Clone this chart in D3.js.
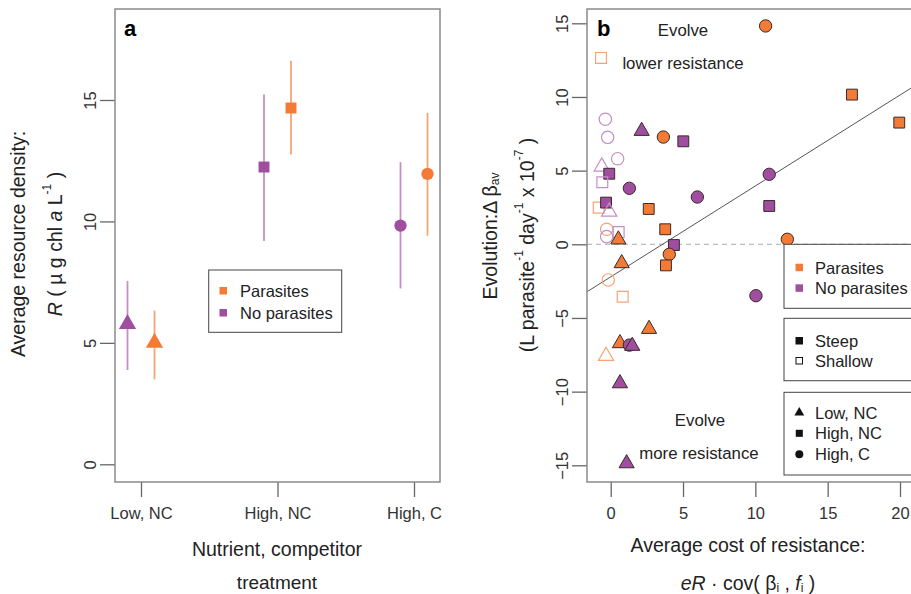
<!DOCTYPE html>
<html>
<head>
<meta charset="utf-8">
<script src="https://cdn.jsdelivr.net/npm/d3@7"></script>
<style>
  html, body { margin: 0; padding: 0; background: #fff; }
  svg { display: block; font-family: "Liberation Sans", Arial, sans-serif; }
</style>
</head>
<body>
<svg id="chart" width="911" height="594"></svg>
<script>
// ---- Panel a: average resource density by treatment ----
const treatments = ["Low, NC", "High, NC", "High, C"];
const treatmentShapes = ["triangle", "square", "circle"];
const parasiteMean = [5.0, 14.67, 11.96];
const parasiteLow = [3.5, 12.76, 9.41];
const parasiteHigh = [6.33, 16.62, 14.47];
const noParasiteMean = [5.78, 12.24, 9.83];
const noParasiteLow = [3.88, 9.19, 7.24];
const noParasiteHigh = [7.55, 15.23, 12.44];
const ticksA = [0, 5, 10, 15];

// ---- Panel b: evolution of transmission vs. cost of resistance ----
const costX = [10.71, -0.67, -0.37, -0.21, 2.14, 3.64, 5.02, 0.48, -0.62, -0.10,
  -0.58, 1.29, 5.99, 10.96, 10.96, 16.68, 19.95, 12.21, -0.83, -0.32,
  -0.10, 2.63, 3.77, -0.28, -0.28, 0.55, 0.53, 4.37, 4.05, 3.82,
  0.76, -0.17, 0.83, 10.04, 2.65, 0.64, 1.29, 1.49, -0.32, 0.64, 1.10];
const evolY = [14.82, 12.65, 8.49, 7.26, 7.69, 7.28, 6.99, 5.81, 5.27, 4.79,
  4.21, 3.80, 3.21, 4.75, 2.60, 10.16, 8.26, 0.34, 2.49, 2.83,
  2.21, 2.40, 1.02, 1.02, 0.52, 0.83, 0.32, -0.05, -0.68, -1.43,
  -1.29, -2.42, -3.56, -3.49, -5.75, -6.72, -6.84, -6.90, -7.58, -9.44, -14.87];
// 1 = parasites, 0 = no parasites
const withParasites = [1, 1, 0, 0, 0, 1, 0, 0, 0, 0,
  0, 0, 0, 0, 0, 1, 1, 1, 1, 0,
  0, 1, 1, 1, 0, 0, 1, 0, 1, 1,
  1, 1, 1, 0, 1, 1, 0, 0, 1, 0, 0];
// 1 = steep (filled), 0 = shallow (open)
const steepSlope = [1, 0, 0, 0, 1, 1, 1, 0, 0, 1,
  0, 1, 1, 1, 1, 1, 1, 1, 0, 1,
  0, 1, 1, 0, 0, 0, 1, 1, 1, 1,
  1, 0, 0, 1, 1, 1, 1, 1, 0, 1, 1];
// 0 = Low, NC; 1 = High, NC; 2 = High, C
const treatmentIndex = [2, 1, 2, 2, 0, 2, 1, 2, 0, 1,
  1, 2, 2, 2, 1, 1, 1, 2, 1, 1,
  0, 1, 1, 2, 2, 1, 0, 1, 2, 1,
  0, 2, 1, 2, 0, 0, 2, 0, 0, 0, 0];
const fitIntercept = -2.21;
const fitSlope = 0.617;
const ticksBx = [0, 5, 10, 15, 20];
const ticksBy = [-15, -10, -5, 0, 5, 10, 15];

const orange = "#F47B36", purple = "#A04FA0";
const orangeLight = "#F6A477", purpleLight = "#C68EC6";
const FONT = "Liberation Sans, Arial, sans-serif";
const tickFont = 16.5, titleFont = 19.5, legendFont = 16.5, noteFont = 16.8;

const svg = d3.select("#chart");
const symbolType = { triangle: d3.symbolTriangle, square: d3.symbolSquare, circle: d3.symbolCircle };
const symbolSize = { triangle: 100, square: 118, circle: 120 };
const sym = (shape, size) => d3.symbol().type(symbolType[shape]).size(size || symbolSize[shape])();

function styleY(g) {
  g.select(".domain").remove();
  g.selectAll(".tick line").attr("stroke", "#666").attr("stroke-width", 1.3);
  g.selectAll(".tick text")
    .attr("font-size", tickFont).attr("fill", "#333").attr("font-family", FONT)
    .attr("text-anchor", "middle").attr("dy", null).attr("x", null)
    .attr("transform", "translate(-25,0) rotate(-90)").attr("dominant-baseline", "central");
}
function styleX(g) {
  g.select(".domain").remove();
  g.selectAll(".tick line").attr("stroke", "#666").attr("stroke-width", 1.3);
  g.selectAll(".tick text").attr("font-size", tickFont).attr("fill", "#333")
    .attr("font-family", FONT).attr("dy", null).attr("y", 31).attr("dominant-baseline", "central");
}

// ================= Panel a =================
const A = { left: 115, right: 440, top: 9, bottom: 482 };
const xA = d3.scalePoint().domain(treatments).range([141, 414]);
const yA = d3.scaleLinear().domain([0, 15]).range([464.3, 100]);
const dodge = 13.5;

const gA = svg.append("g");

gA.append("g").attr("transform", `translate(${A.left},0)`)
  .call(d3.axisLeft(yA).tickValues(ticksA).tickSize(15)).call(styleY);
gA.append("g").attr("transform", `translate(0,${A.bottom})`)
  .call(d3.axisBottom(xA).tickSize(15)).call(styleX);

// frame
gA.append("rect").attr("x", A.left).attr("y", A.top)
  .attr("width", A.right - A.left).attr("height", A.bottom - A.top)
  .attr("fill", "none").attr("stroke", "#8a8a8a").attr("stroke-width", 1.5);

gA.append("text").attr("x", 124).attr("y", 36).attr("font-size", 22).attr("font-weight", "bold").text("a");

// error bars and means
const seriesA = [
  { mean: noParasiteMean, lo: noParasiteLow, hi: noParasiteHigh, color: purple, bar: purpleLight, off: -dodge },
  { mean: parasiteMean, lo: parasiteLow, hi: parasiteHigh, color: orange, bar: orangeLight, off: dodge }
];
seriesA.forEach(s => {
  treatments.forEach((t, i) => {
    const cx = xA(t) + s.off;
    gA.append("line").attr("x1", cx).attr("x2", cx)
      .attr("y1", yA(s.lo[i])).attr("y2", yA(s.hi[i]))
      .attr("stroke", s.bar).attr("stroke-width", 1.8);
    gA.append("path").attr("d", sym(treatmentShapes[i], treatmentShapes[i] === "triangle" ? 130 : 120))
      .attr("transform", `translate(${cx},${yA(s.mean[i])})`)
      .attr("fill", s.color);
  });
});

// legend
const legA = gA.append("g");
legA.append("rect").attr("x", 208.7).attr("y", 270).attr("width", 133).attr("height", 62.3)
  .attr("fill", "#fff").attr("stroke", "#444").attr("stroke-width", 1);
[["Parasites", orange, 291], ["No parasites", purple, 313]].forEach(([lab, col, yy]) => {
  legA.append("rect").attr("x", 219.5).attr("y", yy - 4).attr("width", 7.5).attr("height", 7.5).attr("fill", col);
  legA.append("text").attr("x", 240).attr("y", yy).attr("dominant-baseline", "central")
    .attr("font-size", legendFont).attr("fill", "#222").text(lab);
});

// axis titles
gA.append("text").attr("transform", "translate(18,244) rotate(-90)")
  .attr("text-anchor", "middle").attr("dominant-baseline", "central").attr("font-size", titleFont).attr("fill", "#222")
  .text("Average resource density:");
const rLab = gA.append("text").attr("transform", "translate(55,244) rotate(-90)")
  .attr("text-anchor", "middle").attr("dominant-baseline", "central").attr("font-size", titleFont).attr("fill", "#222");
rLab.append("tspan").attr("font-style", "italic").text("R");
rLab.append("tspan").text(" ( \u00B5 g chl ");
rLab.append("tspan").attr("font-style", "italic").text("a");
rLab.append("tspan").text(" L");
rLab.append("tspan").attr("font-size", 12).attr("dy", -8).text("-1");
rLab.append("tspan").attr("dy", 8).text(" )");

gA.append("text").attr("x", 277).attr("y", 549).attr("text-anchor", "middle").attr("dominant-baseline", "central")
  .attr("font-size", titleFont).attr("fill", "#222").text("Nutrient, competitor");
gA.append("text").attr("x", 277).attr("y", 588.5).attr("text-anchor", "middle")
  .attr("font-size", 19).attr("fill", "#222").text("treatment");

// ================= Panel b =================
const B = { left: 587, right: 914, top: 9, bottom: 482 };
const xB = d3.scaleLinear().domain([0, 20]).range([610.7, 900]);
const yB = d3.scaleLinear().domain([-15, 15]).range([465.3, 23.3]);

const gB = svg.append("g");
const clipId = "clipB";
gB.append("clipPath").attr("id", clipId).append("rect")
  .attr("x", B.left).attr("y", B.top).attr("width", B.right - B.left).attr("height", B.bottom - B.top);

gB.append("g").attr("transform", `translate(${B.left},0)`)
  .call(d3.axisLeft(yB).tickValues(ticksBy).tickSize(15)).call(styleY);
gB.append("g").attr("transform", `translate(0,${B.bottom})`)
  .call(d3.axisBottom(xB).tickValues(ticksBx).tickSize(15)).call(styleX);

const plotB = gB.append("g").attr("clip-path", `url(#${clipId})`);

// zero reference
plotB.append("line").attr("x1", B.left).attr("x2", B.right).attr("y1", yB(0)).attr("y2", yB(0))
  .attr("stroke", "#aaa").attr("stroke-width", 1.1).attr("stroke-dasharray", "5,4");

// fitted line
const xDom = [xB.invert(B.left), xB.invert(B.right)];
plotB.append("line")
  .attr("x1", xB(xDom[0])).attr("y1", yB(fitIntercept + fitSlope * xDom[0]))
  .attr("x2", xB(xDom[1])).attr("y2", yB(fitIntercept + fitSlope * xDom[1]))
  .attr("stroke", "#555").attr("stroke-width", 1);

// annotations
const ann = (x, y, t) => plotB.append("text").attr("x", x).attr("y", y).attr("text-anchor", "middle")
  .attr("dominant-baseline", "central").attr("font-size", noteFont).attr("fill", "#222").text(t);
ann(683, 30, "Evolve");
ann(683, 63, "lower resistance");
ann(700, 420, "Evolve");
ann(699, 453, "more resistance");

gB.append("text").attr("x", 597).attr("y", 36).attr("font-size", 22).attr("font-weight", "bold").text("b");

// points
costX.forEach((cx, i) => {
  const shape = treatmentShapes[treatmentIndex[i]];
  const par = withParasites[i] === 1;
  const filled = steepSlope[i] === 1;
  const p = plotB.append("path").attr("d", sym(shape))
    .attr("transform", `translate(${xB(cx)},${yB(evolY[i])})`);
  if (filled) {
    p.attr("fill", par ? orange : purple).attr("stroke", "#3a2a2a").attr("stroke-width", 1);
  } else {
    p.attr("fill", "none").attr("stroke", par ? orangeLight : purpleLight).attr("stroke-width", 1.2);
  }
});

// legends
const legB = gB.append("g").attr("clip-path", `url(#${clipId})`);
const legBox = (y0, y1) => legB.append("rect").attr("x", 784).attr("y", y0).attr("width", 160).attr("height", y1 - y0)
  .attr("fill", "#fff").attr("stroke", "#444").attr("stroke-width", 1);
const legText = (y, t) => legB.append("text").attr("x", 815).attr("y", y).attr("dominant-baseline", "central")
  .attr("font-size", legendFont).attr("fill", "#222").text(t);

legBox(244.3, 308.3);
[["Parasites", orange, 267.7], ["No parasites", purple, 288.3]].forEach(([lab, col, yy]) => {
  legB.append("rect").attr("x", 795.5).attr("y", yy - 4).attr("width", 7.5).attr("height", 7.5).attr("fill", col);
  legText(yy, lab);
});

legBox(318.3, 380.7);
legB.append("rect").attr("x", 795.5).attr("y", 337).attr("width", 7.5).attr("height", 7.5).attr("fill", "#111");
legText(341, "Steep");
legB.append("rect").attr("x", 796).attr("y", 357.5).attr("width", 6.5).attr("height", 6.5)
  .attr("fill", "none").attr("stroke", "#111").attr("stroke-width", 1);
legText(361, "Shallow");

legBox(392.3, 475);
[["Low, NC", 412.7, "triangle"], ["High, NC", 433.3, "square"], ["High, C", 454.3, "circle"]].forEach(([lab, yy, sh]) => {
  legB.append("path").attr("d", sym(sh, sh === "triangle" ? 42 : 50))
    .attr("transform", `translate(799.3,${yy})`).attr("fill", "#111");
  legText(yy, lab);
});

// frame
gB.append("rect").attr("x", B.left).attr("y", B.top)
  .attr("width", B.right - B.left).attr("height", B.bottom - B.top)
  .attr("fill", "none").attr("stroke", "#8a8a8a").attr("stroke-width", 1.5);

// axis titles
const evoLab = gB.append("text").attr("transform", "translate(490,236) rotate(-90)")
  .attr("text-anchor", "middle").attr("dominant-baseline", "central").attr("font-size", titleFont).attr("fill", "#222");
evoLab.append("tspan").text("Evolution:\u0394 \u03B2");
evoLab.append("tspan").attr("font-size", 12).attr("dy", 5).text("av");

const unitLab = gB.append("text").attr("transform", "translate(527,245) rotate(-90)")
  .attr("text-anchor", "middle").attr("dominant-baseline", "central").attr("font-size", titleFont).attr("fill", "#222");
unitLab.append("tspan").text("(L parasite");
unitLab.append("tspan").attr("font-size", 12).attr("dy", -8).text("-1");
unitLab.append("tspan").attr("dy", 8).text(" day");
unitLab.append("tspan").attr("font-size", 12).attr("dy", -8).text("-1");
unitLab.append("tspan").attr("dy", 8).text(" x 10");
unitLab.append("tspan").attr("font-size", 12).attr("dy", -8).text("-7");
unitLab.append("tspan").attr("dy", 8).text(" )");

gB.append("text").attr("x", 748).attr("y", 545).attr("text-anchor", "middle").attr("dominant-baseline", "central")
  .attr("font-size", titleFont).attr("fill", "#222").text("Average cost of resistance:");
const covLab = gB.append("text").attr("x", 748).attr("y", 583).attr("text-anchor", "middle")
  .attr("dominant-baseline", "central").attr("font-size", titleFont).attr("fill", "#222");
covLab.append("tspan").attr("font-style", "italic").text("eR");
covLab.append("tspan").text(" \u00B7 cov( \u03B2");
covLab.append("tspan").attr("font-size", 12).attr("dy", 5).text("i");
covLab.append("tspan").attr("dy", -5).text(" , ");
covLab.append("tspan").attr("font-style", "italic").text("f");
covLab.append("tspan").attr("font-size", 12).attr("dy", 5).text("i");
covLab.append("tspan").attr("dy", -5).text(" )");
</script>
</body>
</html>
